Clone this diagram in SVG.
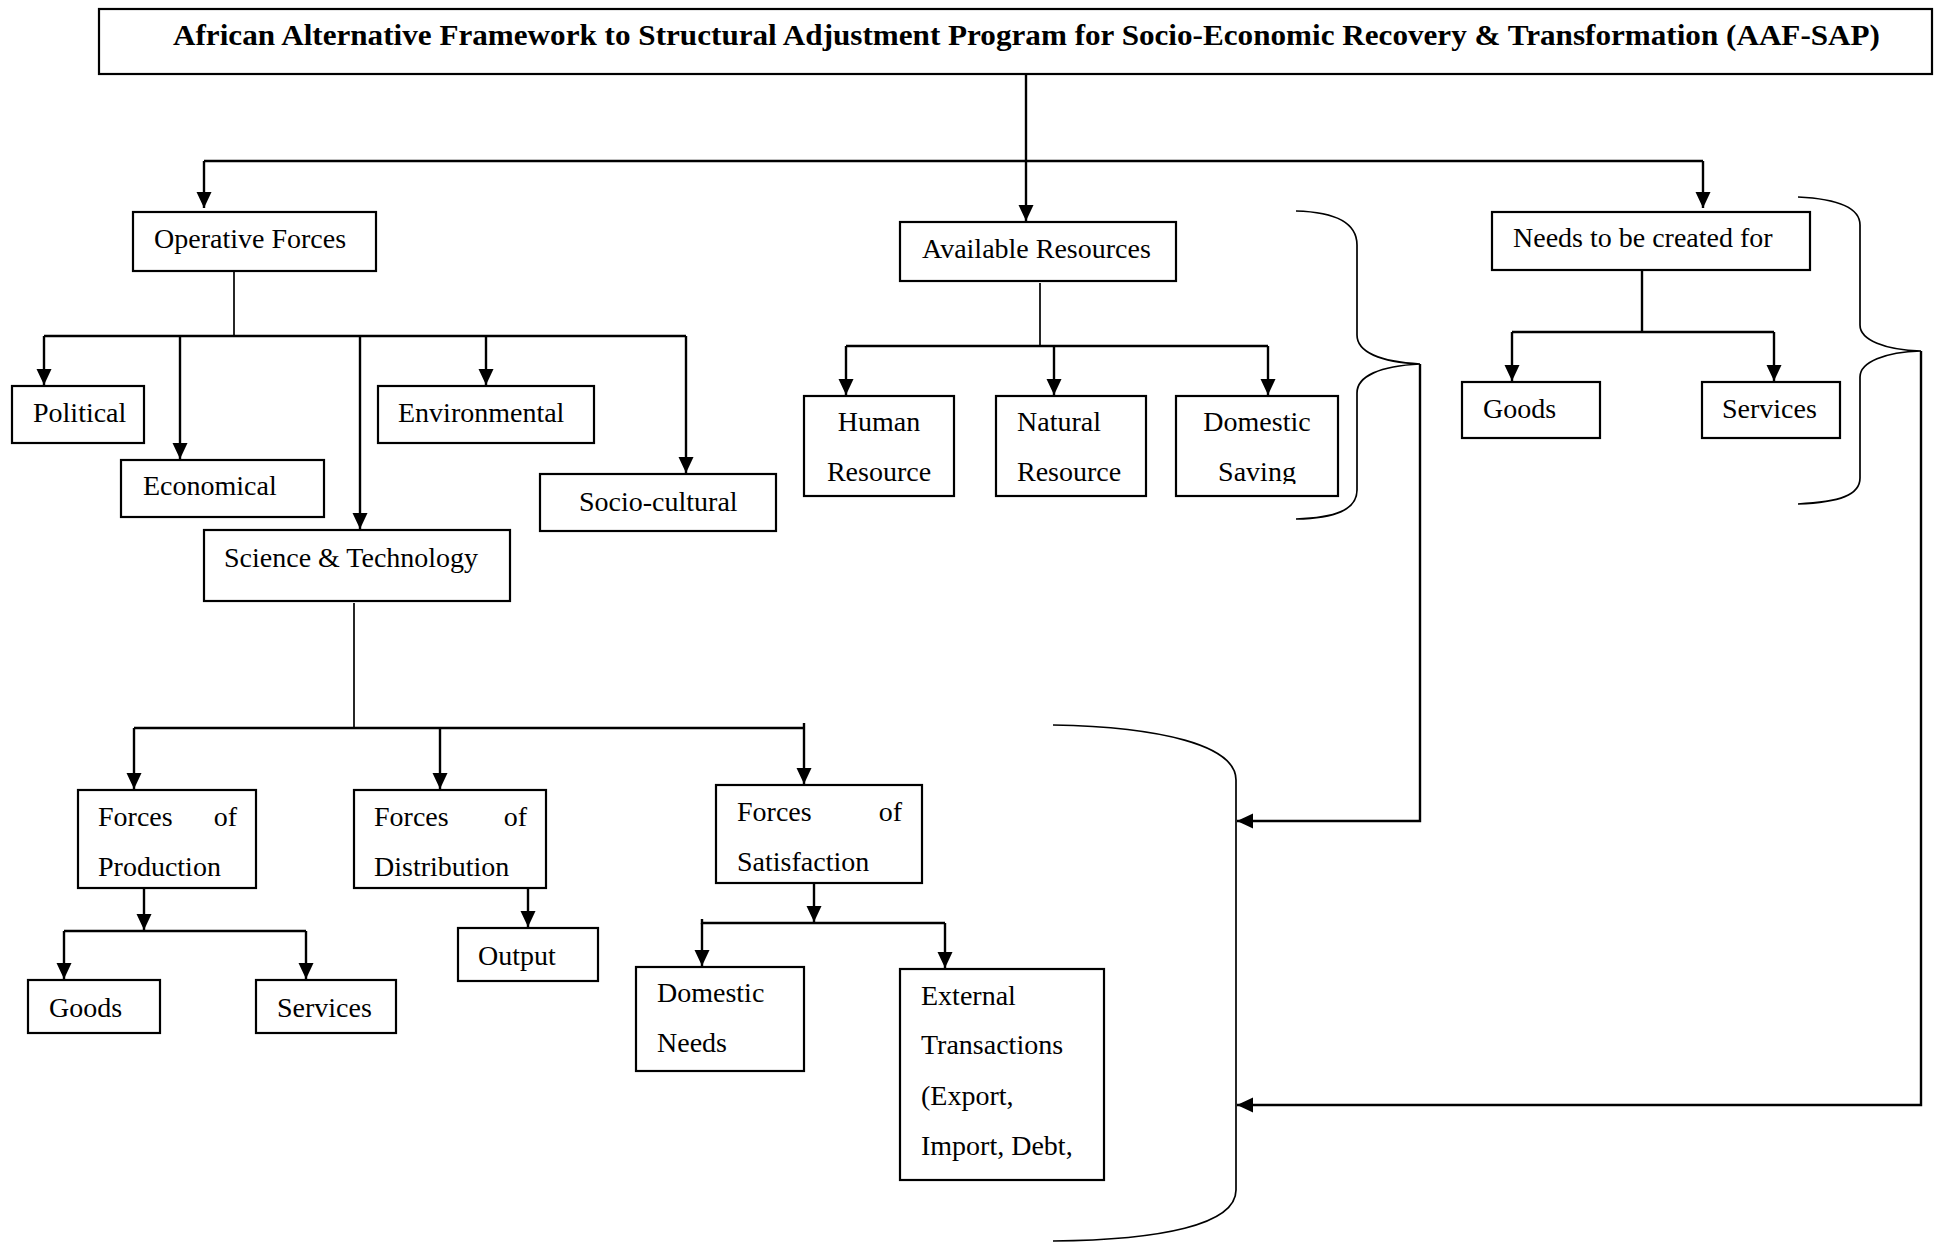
<svg xmlns="http://www.w3.org/2000/svg" width="1936" height="1243" viewBox="0 0 1936 1243">
<style>
.box{fill:#fff;stroke:#000;stroke-width:2.2}
.t{font-family:"Liberation Serif","Times New Roman",serif;font-size:28px;fill:#000}
.title{font-family:"Liberation Serif","Times New Roman",serif;font-size:30px;font-weight:bold;fill:#000}
.c{fill:none;stroke:#000;stroke-width:2.4}
.thin{fill:none;stroke:#000;stroke-width:1.7}
.a{marker-end:url(#ah)}
</style>
<defs>
<marker id="ah" markerUnits="userSpaceOnUse" markerWidth="16" markerHeight="16" refX="16" refY="7.5" orient="auto" viewBox="0 0 16 15"><path d="M0,0 L16,7.5 L0,15 z" fill="#000"/></marker>
<clipPath id="clipSaving"><rect x="1176" y="396" width="162" height="88"/></clipPath>
</defs>
<rect width="1936" height="1243" fill="#fff"/>
<g id="connectors">
<path class="c" d="M1026,74 V161"/>
<path class="c" d="M204,161 H1703"/>
<path class="c a" d="M204,161 V208"/>
<path class="c a" d="M1026,161 V221"/>
<path class="c a" d="M1703,161 V208"/>
<path class="thin" d="M234,272 V336"/>
<path class="c" d="M44,336 H686"/>
<path class="c a" d="M44,336 V385"/>
<path class="c a" d="M180,336 V459"/>
<path class="c a" d="M360,336 V529"/>
<path class="c a" d="M486,336 V385"/>
<path class="c a" d="M686,336 V473"/>
<path class="thin" d="M354,603 V728"/>
<path class="c" d="M134,728 H804"/>
<path class="c a" d="M134,728 V789"/>
<path class="c a" d="M440,728 V789"/>
<path class="c a" d="M804,723 V784"/>
<path class="c a" d="M144,889 V930"/>
<path class="c" d="M64,931 H306"/>
<path class="c a" d="M64,931 V979"/>
<path class="c a" d="M306,931 V979"/>
<path class="c a" d="M528,889 V927"/>
<path class="c a" d="M814,884 V922"/>
<path class="c" d="M702,919 V923 H945"/>
<path class="c a" d="M702,923 V966"/>
<path class="c a" d="M945,923 V968"/>
<path class="thin" d="M1040,283 V346"/>
<path class="c" d="M846,346 H1268"/>
<path class="c a" d="M846,346 V395"/>
<path class="c a" d="M1054,346 V395"/>
<path class="c a" d="M1268,346 V395"/>
<path class="c" d="M1642,271 V332"/>
<path class="c" d="M1512,332 H1774"/>
<path class="c a" d="M1512,332 V381"/>
<path class="c a" d="M1774,332 V381"/>
<path class="thin" d="M1296,211 C1335,212 1357,222 1357,245 L1357,335 C1357,352 1380,362 1420,364 C1380,366 1357,376 1357,393 L1357,490 C1357,510 1335,518 1296,519"/>
<path class="thin" d="M1798,197 C1840,199 1860,208 1860,225 L1860,325 C1860,340 1885,350 1921,351 C1885,352 1860,362 1860,377 L1860,478 C1860,495 1840,502 1798,504"/>
<path class="thin" d="M1053,725 C1160,727 1236,745 1236,780 L1236,1190 C1236,1225 1160,1240 1053,1241"/>
<path class="c a" d="M1420,364 V821 H1237"/>
<path class="c a" d="M1921,351 V1105 H1237"/>
</g>
<g id="title"><rect class="box" x="99" y="9" width="1833" height="65"/><text class="title" x="173" y="45" textLength="1707" lengthAdjust="spacingAndGlyphs">African Alternative Framework to Structural Adjustment Program for Socio-Economic Recovery &amp; Transformation (AAF-SAP)</text></g>
<g id="operative"><rect class="box" x="133" y="212" width="243" height="59"/><text class="t" x="154" y="248">Operative Forces</text></g>
<g id="political"><rect class="box" x="12" y="386" width="132" height="57"/><text class="t" x="33" y="422">Political</text></g>
<g id="economical"><rect class="box" x="121" y="460" width="203" height="57"/><text class="t" x="143" y="495">Economical</text></g>
<g id="science"><rect class="box" x="204" y="530" width="306" height="71"/><text class="t" x="224" y="567">Science &amp; Technology</text></g>
<g id="environmental"><rect class="box" x="378" y="386" width="216" height="57"/><text class="t" x="398" y="422">Environmental</text></g>
<g id="sociocultural"><rect class="box" x="540" y="474" width="236" height="57"/><text class="t" x="579" y="511">Socio-cultural</text></g>
<g id="available"><rect class="box" x="900" y="222" width="276" height="59"/><text class="t" x="922" y="258">Available Resources</text></g>
<g id="human"><rect class="box" x="804" y="396" width="150" height="100"/><text class="t" x="879" y="431" text-anchor="middle">Human</text><text class="t" x="879" y="481" text-anchor="middle">Resource</text></g>
<g id="natural"><rect class="box" x="996" y="396" width="150" height="100"/><text class="t" x="1017" y="431">Natural</text><text class="t" x="1017" y="481">Resource</text></g>
<g id="domsaving"><rect class="box" x="1176" y="396" width="162" height="100"/><text class="t" x="1257" y="431" text-anchor="middle">Domestic</text><text class="t" x="1257" y="481" text-anchor="middle" clip-path="url(#clipSaving)">Saving</text></g>
<g id="needs"><rect class="box" x="1492" y="212" width="318" height="58"/><text class="t" x="1513" y="247">Needs to be created for</text></g>
<g id="goodsR"><rect class="box" x="1462" y="382" width="138" height="56"/><text class="t" x="1483" y="418">Goods</text></g>
<g id="servicesR"><rect class="box" x="1702" y="382" width="138" height="56"/><text class="t" x="1722" y="418">Services</text></g>
<g id="production"><rect class="box" x="78" y="790" width="178" height="98"/><text class="t" x="98" y="826">Forces</text><text class="t" x="237" y="826" text-anchor="end">of</text><text class="t" x="98" y="876">Production</text></g>
<g id="distribution"><rect class="box" x="354" y="790" width="192" height="98"/><text class="t" x="374" y="826">Forces</text><text class="t" x="527" y="826" text-anchor="end">of</text><text class="t" x="374" y="876">Distribution</text></g>
<g id="satisfaction"><rect class="box" x="716" y="785" width="206" height="98"/><text class="t" x="737" y="821">Forces</text><text class="t" x="902" y="821" text-anchor="end">of</text><text class="t" x="737" y="871">Satisfaction</text></g>
<g id="output"><rect class="box" x="458" y="928" width="140" height="53"/><text class="t" x="478" y="965">Output</text></g>
<g id="goodsL"><rect class="box" x="28" y="980" width="132" height="53"/><text class="t" x="49" y="1017">Goods</text></g>
<g id="servicesL"><rect class="box" x="256" y="980" width="140" height="53"/><text class="t" x="277" y="1017">Services</text></g>
<g id="domneeds"><rect class="box" x="636" y="967" width="168" height="104"/><text class="t" x="657" y="1002">Domestic</text><text class="t" x="657" y="1052">Needs</text></g>
<g id="external"><rect class="box" x="900" y="969" width="204" height="211"/><text class="t" x="921" y="1005">External</text><text class="t" x="921" y="1054">Transactions</text><text class="t" x="921" y="1105">(Export,</text><text class="t" x="921" y="1155">Import, Debt,</text></g>
</svg>
